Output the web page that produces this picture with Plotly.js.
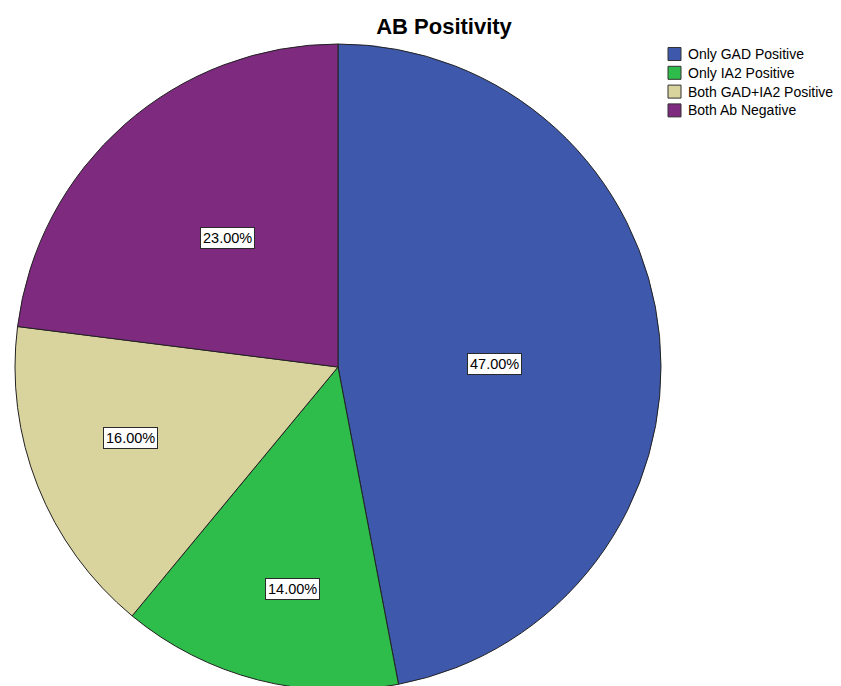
<!DOCTYPE html>
<html>
<head>
<meta charset="utf-8">
<script src="https://cdn.plot.ly/plotly-3.0.1.min.js"></script>
<style>
html,body{margin:0;padding:0;overflow:hidden;background:#fff;width:841px;height:686px;}
#chart{width:841px;height:700px;}
</style>
</head>
<body>
<div id="chart"></div>
<script>
var categories = ["Only GAD Positive", "Only IA2 Positive", "Both GAD+IA2 Positive", "Both Ab Negative"];
var percentages = [47, 14, 16, 23];
var sliceColors = ["#3e58ac", "#2ebd4a", "#d9d39d", "#7e2a7e"];

var W = 841, H = 700;
var cx = 338, cy = 367, R = 323;
var FONT = "Liberation Sans, Arial, sans-serif";
// placement of the value boxes: fraction of radius and angle nudge (deg), per slice
var labelRadius = [0.486, 0.70, 0.68, 0.524];
var labelNudge = [4.3, -2.9, 2.7, 0.8];

function px2x(p){ return p / W; }
function py2y(p){ return (H - p) / H; }

var total = percentages.reduce(function(a, b){ return a + b; }, 0);
var annotations = [];
var shapes = [];
var cum = 0;
percentages.forEach(function(v, i){
  var mid = (cum + v / 2) / total * 2 * Math.PI + labelNudge[i] * Math.PI / 180;
  cum += v;
  var px = cx + labelRadius[i] * R * Math.sin(mid);
  var py = cy - labelRadius[i] * R * Math.cos(mid);
  annotations.push({
    x: px2x(px), y: py2y(py), xref: "paper", yref: "paper",
    xanchor: "center", yanchor: "middle",
    text: v.toFixed(2) + "%", showarrow: false,
    font: {family: FONT, size: 14.5, color: "#000"},
    bgcolor: "#ffffff", bordercolor: "#2a2a2a", borderwidth: 1, borderpad: 2
  });
});

// legend (swatch + label for each category)
var legTop = 54, legStep = 18.8, swX = 668, sw = 13, txtX = 686;
categories.forEach(function(c, i){
  var yc = legTop + i * legStep;
  shapes.push({
    type: "rect", xref: "paper", yref: "paper",
    x0: px2x(swX), x1: px2x(swX + sw), y0: py2y(yc + sw / 2), y1: py2y(yc - sw / 2),
    fillcolor: sliceColors[i], line: {color: "#333333", width: 1}
  });
  annotations.push({
    x: px2x(txtX), y: py2y(yc), xref: "paper", yref: "paper",
    xanchor: "left", yanchor: "middle", showarrow: false,
    text: c, font: {family: FONT, size: 14, color: "#000"}
  });
});

var data = [{
  type: "pie",
  labels: categories,
  values: percentages,
  sort: false,
  direction: "clockwise",
  rotation: 0,
  textinfo: "none",
  hoverinfo: "label+percent",
  marker: {colors: sliceColors, line: {color: "#222222", width: 1}},
  domain: {x: [(cx - R) / W, (cx + R) / W], y: [(H - cy - R) / H, (H - cy + R) / H]}
}];

var layout = {
  width: W, height: H,
  margin: {l: 0, r: 0, t: 0, b: 0},
  paper_bgcolor: "#ffffff",
  title: {
    text: "<b>AB Positivity</b>",
    x: 444 / W, xanchor: "center", xref: "paper",
    y: (H - 26) / H, yanchor: "middle", yref: "paper",
    font: {family: FONT, size: 22, color: "#000"}
  },
  showlegend: false,
  shapes: shapes,
  annotations: annotations
};

Plotly.newPlot("chart", data, layout, {displayModeBar: false, staticPlot: true});
</script>
</body>
</html>
